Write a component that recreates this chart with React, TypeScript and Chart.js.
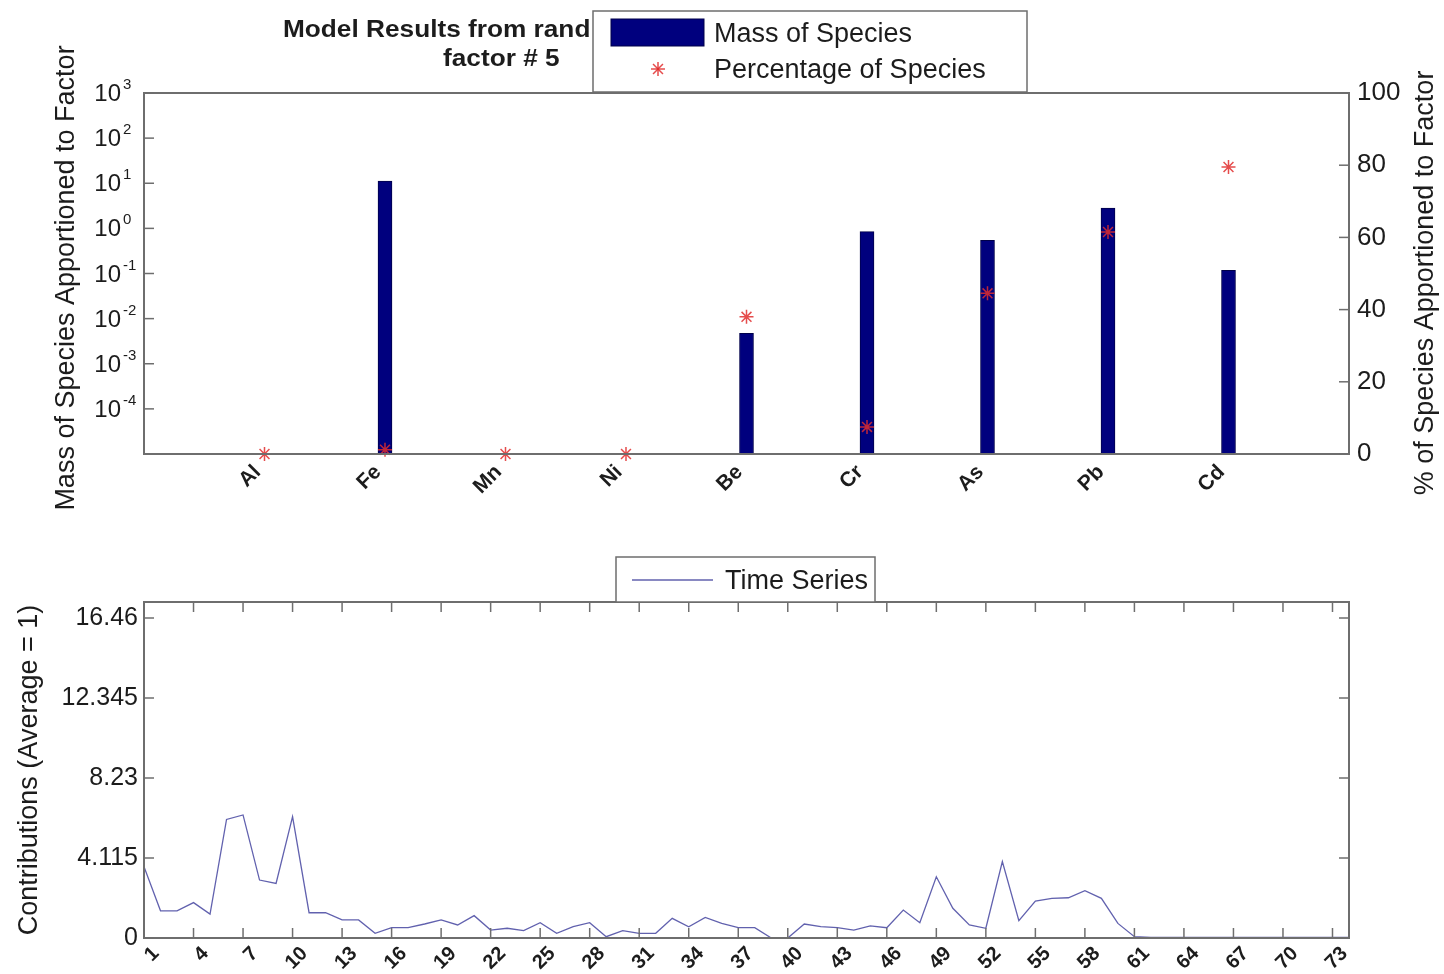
import React, { useEffect, useRef } from 'react';
import { Chart, registerables } from 'chart.js';

Chart.register(...registerables);

const FONT = '"Liberation Sans", Arial, Helvetica, sans-serif';
const TEXT = '#1c1c1c';
const AXIS = '#6e6e6e';

// ---- Top panel data ----
const species = ['Al', 'Fe', 'Mn', 'Ni', 'Be', 'Cr', 'As', 'Pb', 'Cd'];
const massOfSpecies = [null, 11.2, null, null, 0.0047, 0.85, 0.54, 2.8, 0.117];
const percentOfSpecies = [0, 1.2, 0, 0, 38, 7.5, 44.5, 61.5, 79.5];
const massExponents = [-4, -3, -2, -1, 0, 1, 2, 3];
const percentTicks = [0, 20, 40, 60, 80, 100];

// ---- Bottom panel data ----
const contributions = [
  3.67, 1.40, 1.40, 1.82, 1.23, 6.10, 6.33, 2.98, 2.81, 6.24,
  1.30, 1.30, 0.93, 0.93, 0.24, 0.53, 0.53, 0.72, 0.93, 0.67,
  1.15, 0.41, 0.50, 0.38, 0.79, 0.24, 0.58, 0.79, 0.07, 0.38,
  0.24, 0.24, 1.01, 0.58, 1.06, 0.75, 0.53, 0.53, 0.00, 0.00,
  0.72, 0.58, 0.53, 0.41, 0.62, 0.53, 1.44, 0.79, 3.15, 1.53,
  0.67, 0.50, 3.93, 0.89, 1.90, 2.04, 2.07, 2.43, 2.04, 0.75,
  0.07, 0.03, 0.03, 0.03, 0.03, 0.03, 0.03, 0.03, 0.03, 0.03,
  0.03, 0.03, 0.03, 0.03,
];
const sampleTicks = [1, 4, 7, 10, 13, 16, 19, 22, 25, 28, 31, 34, 37, 40, 43, 46, 49, 52, 55, 58, 61, 64, 67, 70, 73];
const contributionTicks = [0, 4.115, 8.23, 12.345, 16.46];
const contributionTickLabels = ['0', '4.115', '8.23', '12.345', '16.46'];

function seg(ctx: CanvasRenderingContext2D, x1: number, y1: number, x2: number, y2: number) {
  ctx.beginPath();
  ctx.moveTo(x1, y1);
  ctx.lineTo(x2, y2);
  ctx.stroke();
}

function vText(ctx: CanvasRenderingContext2D, text: string, x: number, y: number, font: string) {
  ctx.save();
  ctx.translate(x, y);
  ctx.rotate(-Math.PI / 2);
  ctx.font = font;
  ctx.textAlign = 'center';
  ctx.textBaseline = 'middle';
  ctx.fillStyle = TEXT;
  ctx.fillText(text, 0, 0);
  ctx.restore();
}

const topDecor = {
  id: 'topDecor',
  afterDraw(chart: any) {
    const ctx: CanvasRenderingContext2D = chart.ctx;
    const a = chart.chartArea;
    const yS = chart.scales.y;
    const y1 = chart.scales.y1;
    ctx.save();
    ctx.strokeStyle = AXIS;
    ctx.lineWidth = 2;
    ctx.strokeRect(a.left, a.top, a.right - a.left, a.bottom - a.top);
    ctx.lineWidth = 1.5;
    massExponents.forEach((e) => {
      const py = yS.getPixelForValue(Math.pow(10, e));
      seg(ctx, a.left, py, a.left + 10, py);
    });
    percentTicks.forEach((v) => {
      const py = y1.getPixelForValue(v);
      seg(ctx, a.right - 10, py, a.right, py);
    });
    // left tick labels with superscripts
    ctx.fillStyle = TEXT;
    massExponents.forEach((e) => {
      const py = yS.getPixelForValue(Math.pow(10, e));
      ctx.font = `24px ${FONT}`;
      ctx.textAlign = 'right';
      ctx.textBaseline = 'alphabetic';
      ctx.fillText('10', 121, py + 8);
      ctx.font = `15px ${FONT}`;
      ctx.textAlign = 'left';
      ctx.fillText(String(e), 123, py - 4);
    });
    // axis titles
    vText(ctx, 'Mass of Species Apportioned to Factor', 67, 278, `27px ${FONT}`);
    vText(ctx, '% of Species Apportioned to Factor', 1426, 283, `27px ${FONT}`);
    // title
    ctx.fillStyle = TEXT;
    ctx.font = `bold 23px ${FONT}`;
    ctx.textAlign = 'left';
    ctx.textBaseline = 'alphabetic';
    ctx.save();
    ctx.translate(283, 37);
    ctx.scale(1.14, 1);
    ctx.fillText('Model Results from rand', 0, 0);
    ctx.restore();
    ctx.save();
    ctx.translate(443, 66);
    ctx.scale(1.14, 1);
    ctx.fillText('factor # 5', 0, 0);
    ctx.restore();
    // legend
    ctx.fillStyle = '#ffffff';
    ctx.fillRect(593, 11, 434, 81);
    ctx.strokeStyle = AXIS;
    ctx.lineWidth = 1.5;
    ctx.strokeRect(593, 11, 434, 81);
    ctx.fillStyle = '#00007e';
    ctx.fillRect(611, 19, 93, 27);
    ctx.strokeStyle = '#00004a';
    ctx.lineWidth = 1;
    ctx.strokeRect(611, 19, 93, 27);
    ctx.strokeStyle = 'rgba(225,45,45,0.85)';
    ctx.lineWidth = 1.5;
    const sx = 658, sy = 69, r = 7;
    seg(ctx, sx - r, sy, sx + r, sy);
    seg(ctx, sx, sy - r, sx, sy + r);
    const d = r * 0.707;
    seg(ctx, sx - d, sy - d, sx + d, sy + d);
    seg(ctx, sx - d, sy + d, sx + d, sy - d);
    ctx.fillStyle = TEXT;
    ctx.font = `27px ${FONT}`;
    ctx.textAlign = 'left';
    ctx.fillText('Mass of Species', 714, 42);
    ctx.fillText('Percentage of Species', 714, 78);
    ctx.restore();
  },
};

const bottomDecor = {
  id: 'bottomDecor',
  afterDraw(chart: any) {
    const ctx: CanvasRenderingContext2D = chart.ctx;
    const a = chart.chartArea;
    const xS = chart.scales.x;
    const yS = chart.scales.y;
    ctx.save();
    ctx.strokeStyle = AXIS;
    ctx.lineWidth = 2;
    ctx.strokeRect(a.left, a.top, a.right - a.left, a.bottom - a.top);
    ctx.lineWidth = 1.5;
    sampleTicks.forEach((v) => {
      const px = xS.getPixelForValue(v);
      seg(ctx, px, a.bottom, px, a.bottom - 10);
      seg(ctx, px, a.top, px, a.top + 10);
    });
    contributionTicks.forEach((v) => {
      const py = yS.getPixelForValue(v);
      seg(ctx, a.left, py, a.left + 10, py);
      seg(ctx, a.right - 10, py, a.right, py);
    });
    vText(ctx, 'Contributions (Average = 1)', 30, 240, `27px ${FONT}`);
    // legend
    ctx.fillStyle = '#ffffff';
    ctx.fillRect(616, 27, 259, 45);
    ctx.strokeStyle = AXIS;
    ctx.lineWidth = 1.5;
    ctx.strokeRect(616, 27, 259, 45);
    ctx.strokeStyle = 'rgba(80,80,165,0.9)';
    ctx.lineWidth = 1.3;
    seg(ctx, 632, 50, 713, 50);
    ctx.fillStyle = TEXT;
    ctx.font = `27px ${FONT}`;
    ctx.textAlign = 'left';
    ctx.textBaseline = 'alphabetic';
    ctx.fillText('Time Series', 725, 59);
    ctx.restore();
  },
};

export default function App() {
  const topRef = useRef<HTMLCanvasElement>(null);
  const bottomRef = useRef<HTMLCanvasElement>(null);

  useEffect(() => {
    if (!topRef.current || !bottomRef.current) return;
    const topChart = new Chart(topRef.current, {
      type: 'bar',
      data: {
        datasets: [
          {
            type: 'line',
            label: 'Percentage of Species',
            data: percentOfSpecies.map((v, i) => ({ x: i + 1, y: v })),
            yAxisID: 'y1',
            xAxisID: 'x',
            showLine: false,
            pointStyle: 'star',
            pointRadius: 7,
            pointBorderColor: 'rgba(225,45,45,0.85)',
            pointBackgroundColor: 'rgba(225,45,45,0.85)',
            pointBorderWidth: 1.5,
            borderColor: 'rgba(225,45,45,0.85)',
            clip: false,
            order: 0,
          } as any,
          {
            type: 'bar',
            label: 'Mass of Species',
            data: massOfSpecies.map((v, i) => ({ x: i + 1, y: v })),
            yAxisID: 'y',
            xAxisID: 'x',
            backgroundColor: '#00007e',
            borderColor: '#00004a',
            borderWidth: 1,
            barThickness: 14,
            order: 1,
          } as any,
        ],
      },
      options: {
        responsive: false,
        animation: false,
        layout: { padding: { top: 93, left: 0, right: 0, bottom: 0 } },
        scales: {
          x: {
            type: 'linear',
            min: 0,
            max: 10,
            offset: false,
            afterBuildTicks: (s: any) => {
              s.ticks = species.map((_, i) => ({ value: i + 1 }));
            },
            ticks: {
              autoSkip: false,
              minRotation: 45,
              maxRotation: 45,
              padding: 6,
              labelOffset: -7,
              color: TEXT,
              font: { family: FONT, size: 21, weight: 'bold' },
              callback: (v: any) => species[Number(v) - 1] ?? '',
            },
            grid: { display: false, drawTicks: false },
            border: { display: false },
            afterFit: (s: any) => {
              s.height = 76;
            },
          },
          y: {
            type: 'logarithmic',
            position: 'left',
            min: 1e-5,
            max: 1e3,
            afterBuildTicks: (s: any) => {
              s.ticks = massExponents.map((e) => ({ value: Math.pow(10, e) }));
            },
            ticks: { display: false },
            grid: { display: false, drawTicks: false },
            border: { display: false },
            afterFit: (s: any) => {
              s.width = 144;
            },
          },
          y1: {
            type: 'linear',
            position: 'right',
            min: 0,
            max: 100,
            afterBuildTicks: (s: any) => {
              s.ticks = percentTicks.map((v) => ({ value: v }));
            },
            ticks: {
              padding: 8,
              color: TEXT,
              font: { family: FONT, size: 26 },
            },
            grid: { display: false, drawTicks: false },
            border: { display: false },
            afterFit: (s: any) => {
              s.width = 95;
            },
          },
        },
        plugins: {
          legend: { display: false },
          tooltip: { enabled: false },
          title: { display: false },
        },
      } as any,
      plugins: [topDecor],
    });

    const bottomChart = new Chart(bottomRef.current, {
      type: 'line',
      data: {
        datasets: [
          {
            label: 'Time Series',
            data: contributions.map((v, i) => ({ x: i + 1, y: v })),
            borderColor: 'rgba(80,80,165,0.9)',
            borderWidth: 1.3,
            pointRadius: 0,
            tension: 0,
            fill: false,
          },
        ],
      },
      options: {
        responsive: false,
        animation: false,
        layout: { padding: { top: 72, left: 0, right: 95, bottom: 0 } },
        scales: {
          x: {
            type: 'linear',
            min: 1,
            max: 74,
            afterBuildTicks: (s: any) => {
              s.ticks = sampleTicks.map((v) => ({ value: v }));
            },
            ticks: {
              autoSkip: false,
              minRotation: 45,
              maxRotation: 45,
              padding: 4,
              labelOffset: 12,
              color: TEXT,
              font: { family: FONT, size: 20, weight: 'bold' },
              callback: (v: any) => String(v),
            },
            grid: { display: false, drawTicks: false },
            border: { display: false },
            afterFit: (s: any) => {
              s.height = 36;
            },
          },
          y: {
            type: 'linear',
            min: 0,
            max: 17.283,
            afterBuildTicks: (s: any) => {
              s.ticks = contributionTicks.map((v) => ({ value: v }));
            },
            ticks: {
              padding: 6,
              color: TEXT,
              font: { family: FONT, size: 25 },
              callback: (v: any) => {
                const idx = contributionTicks.findIndex((t) => Math.abs(t - Number(v)) < 1e-6);
                return idx >= 0 ? contributionTickLabels[idx] : '';
              },
            },
            grid: { display: false, drawTicks: false },
            border: { display: false },
            afterFit: (s: any) => {
              s.width = 144;
            },
          },
        },
        plugins: {
          legend: { display: false },
          tooltip: { enabled: false },
          title: { display: false },
        },
      } as any,
      plugins: [bottomDecor],
    });

    return () => {
      topChart.destroy();
      bottomChart.destroy();
    };
  }, []);

  return (
    <div style={{ position: 'fixed', left: 0, top: 0, width: 1444, height: 974, background: '#ffffff', overflow: 'hidden' }}>
      <canvas ref={topRef} width={1444} height={530} style={{ position: 'absolute', left: 0, top: 0, width: 1444, height: 530 }} />
      <canvas ref={bottomRef} width={1444} height={444} style={{ position: 'absolute', left: 0, top: 530, width: 1444, height: 444 }} />
    </div>
  );
}
